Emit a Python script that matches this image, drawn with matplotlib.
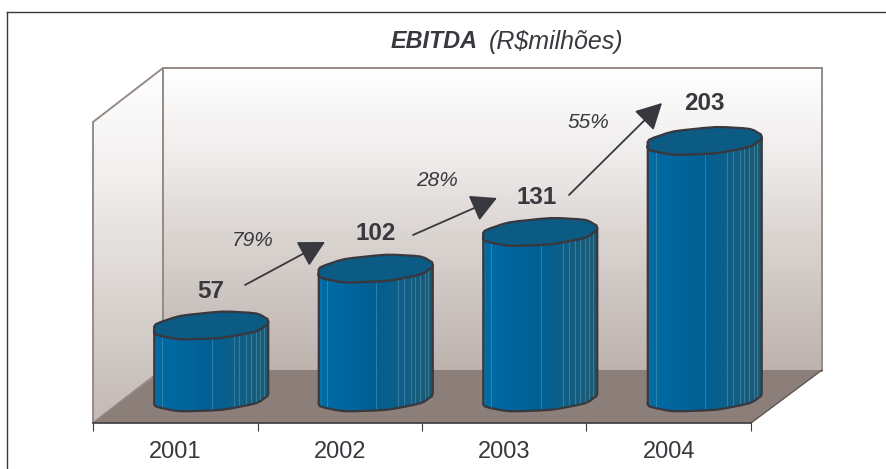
import numpy as np
import matplotlib
matplotlib.use("Agg")
import matplotlib.pyplot as plt
from matplotlib.colors import LinearSegmentedColormap
from matplotlib.patches import Polygon, FancyArrowPatch

plt.rcParams['font.family'] = ['Liberation Sans', 'DejaVu Sans']

# ---- data ----
years = ["2001", "2002", "2003", "2004"]
ebitda = [57, 102, 131, 203]
growth = ["79%", "28%", "55%"]

W, H = 887, 469
INK = "#38383e"
WALLEDGE = "#968b87"
FLOOR = "#8c7f7a"
TOPC = "#0b5b84"

fig = plt.figure(figsize=(W / 100, H / 100), dpi=100, facecolor="white")


def pixel_axes(z):
    a = fig.add_axes([0, 0, 1, 1], zorder=z)
    a.set_xlim(0, W)
    a.set_ylim(H, 0)
    a.axis("off")
    a.patch.set_alpha(0)
    return a


bg = pixel_axes(0)
top = pixel_axes(2)

# outer frame (only top and left fall inside the picture)
bg.plot([7, 7], [H + 5, 12], color="#3a3a3a", lw=1.0)
bg.plot([7, W + 5], [12, 12], color="#3a3a3a", lw=1.0)

# walls with vertical gradient
wall_cm = LinearSegmentedColormap.from_list(
    "wall", [(0, "#ffffff"), (0.27, "#f0eeed"), (0.55, "#dbd5d2"), (1, "#bdb2ae")])
side_cm = LinearSegmentedColormap.from_list(
    "side", [(0, "#ffffff"), (0.30, "#f2f0ef"), (0.62, "#dcd6d3"), (1, "#c3b9b5")])
grad = np.linspace(0, 1, 256).reshape(-1, 1)

im = bg.imshow(grad, cmap=wall_cm, extent=(163, 822, 371, 68), aspect="auto", zorder=1)
bg.plot([163, 163, 822, 822], [370, 68, 68, 371], color=WALLEDGE, lw=1.4, zorder=3,
        solid_joinstyle="miter")

side_pts = [(93, 122), (163, 68), (163, 369), (93, 423)]
im2 = bg.imshow(grad, cmap=side_cm, extent=(93, 163, 423, 68), aspect="auto", zorder=1)
im2.set_clip_path(Polygon(side_pts, closed=True, transform=bg.transData))
bg.add_patch(Polygon(side_pts, closed=True, fc="none", ec=WALLEDGE, lw=1.4, zorder=3))

# floor
bg.add_patch(Polygon([(93, 423), (751, 423), (822, 370), (163, 370)], closed=True,
                     fc=FLOOR, ec="none", zorder=4))
bg.plot([751, 822], [423, 370], color="#5f5654", lw=1.0, zorder=5)
bg.set_xlim(0, W)
bg.set_ylim(H, 0)

# ---- data axes: floor front edge up to the wall top, room to the right for depth ----
x0, x_end, ytop, ybot = 93, 822, 68, 423
PX_PER_CAT = 164.5
PX_PER_VAL = 1.264
BASE_PX = 397.5
ax = fig.add_axes([x0 / W, 1 - ybot / H, (x_end - x0) / W, (ybot - ytop) / H], zorder=1)
ax.patch.set_alpha(0)
xlim = (0, (x_end - x0) / PX_PER_CAT)
ylim = ((BASE_PX - ybot) / PX_PER_VAL, (BASE_PX - ytop) / PX_PER_VAL)
ax.set_xlim(*xlim)
ax.set_ylim(*ylim)
for s in ("top", "left", "right"):
    ax.spines[s].set_visible(False)
ax.spines["bottom"].set_color("#3a3a3e")
ax.spines["bottom"].set_linewidth(1.2)
ax.spines["bottom"].set_bounds(0, 4)
ax.yaxis.set_visible(False)
ax.set_xticks(range(5))
ax.set_xticklabels([])
ax.set_xticks([i + 0.5 for i in range(4)], minor=True)
ax.set_xticklabels(years, minor=True, fontsize=17, color=INK)
ax.tick_params(axis="x", which="major", length=5.5, width=0.8, color="#3a3a3e", direction="out")
ax.tick_params(axis="x", which="minor", length=0, pad=13)

# cylinders
DEPTH = 35.5 / PX_PER_CAT
a = 57.5 / PX_PER_CAT
b = 13 / PX_PER_VAL
tilt = 4 / PX_PER_VAL
body_cm = LinearSegmentedColormap.from_list(
    "body", [(0, "#1a78ad"), (0.04, "#006ba4"), (0.2, "#0067a0"), (0.5, "#005f92"),
             (0.72, "#0f5f88"), (1, "#1c5a72")])
facets = [0.08, 0.51, 0.70, 0.75, 0.81, 0.85, 0.89, 0.93, 0.96]
shade = np.linspace(0, 1, 256).reshape(1, -1)


def ell(cx, cy, t):
    # slightly faceted, a little fuller than a true ellipse: the outline is a coarse polygon
    c, s = np.cos(t), np.sin(t)
    k = 1 + 0.018 * np.cos(9 * t)
    ex = 0.93
    xx = np.sign(c) * np.abs(c) ** ex * k
    yy = np.sign(s) * np.abs(s) ** ex * k
    return cx + a * np.clip(xx, -1, 1), cy + b * yy + tilt * xx


for i, v in enumerate(ebitda):
    cx = i + 0.5 + DEPTH
    tt = np.linspace(0, 2 * np.pi, 37)
    tx, ty = ell(cx, v, tt)
    front = np.linspace(np.pi, 2 * np.pi, 19)
    bx, by = ell(cx, 0, front)
    ux, uy = ell(cx, v, front[::-1])
    body = np.column_stack([np.r_[bx, ux], np.r_[by, uy]])
    im3 = ax.imshow(shade, cmap=body_cm, extent=(cx - a, cx + a, -b - tilt - 2, v + b),
                    aspect="auto", zorder=3)
    im3.set_clip_path(Polygon(body, closed=True, transform=ax.transData))
    for f in facets:
        xf = cx - a + 2 * a * f
        l, = ax.plot([xf, xf], [-b - tilt - 2, v], color="#5e9abb", lw=0.6, alpha=0.6, zorder=4)
        l.set_clip_path(Polygon(body, closed=True, transform=ax.transData))
    ax.add_patch(Polygon(body, closed=True, fc="none", ec=INK, lw=1.6, zorder=5, clip_on=False))
    ax.add_patch(Polygon(np.column_stack([tx, ty]), closed=True, fc=TOPC, ec=INK, lw=1.6,
                         zorder=6, clip_on=False))
ax.set_xlim(*xlim)
ax.set_ylim(*ylim)

# value labels
value_xy = [(211, 292), (376, 234), (537, 197), (704, 104)]
for v, (x, y) in zip(ebitda, value_xy):
    top.text(x, y, str(v), fontsize=17.5, fontweight="bold", color=INK, ha="center", va="center")

# growth labels
growth_xy = [(253, 241), (437, 180), (588, 122)]
for g, (x, y) in zip(growth, growth_xy):
    top.text(x, y, g, fontsize=15, fontstyle="italic", color=INK, ha="center", va="center")

# arrows
arrows = [((245, 285), (325, 242)), ((413, 235), (497, 198)), ((569, 195), (662, 103))]
for p, q in arrows:
    top.add_patch(FancyArrowPatch(p, q, arrowstyle="-|>,head_length=16,head_width=8.5",
                                  mutation_scale=1, color=INK, lw=1.3, shrinkA=0, shrinkB=0))

# title
top.text(391, 42, "EBITDA", fontsize=16.8, fontweight="bold", fontstyle="italic", color=INK,
         ha="left", va="center")
top.text(489, 42, "(R$milhões)", fontsize=18, fontstyle="italic", color=INK,
         ha="left", va="center")

fig.savefig("out.png", dpi=100, facecolor="white")
